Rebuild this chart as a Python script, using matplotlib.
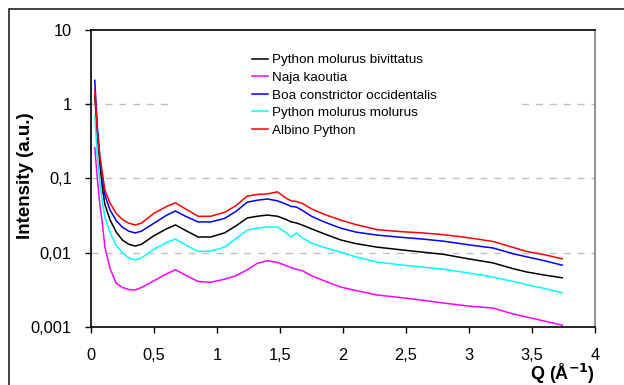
import numpy as np
import matplotlib
matplotlib.use("Agg")
import matplotlib.pyplot as plt
from matplotlib.patches import Rectangle
from matplotlib.ticker import FixedLocator, FixedFormatter, NullLocator

plt.rcParams['font.family'] = ['Liberation Sans', 'DejaVu Sans']

# Q values (1/Angstrom) shared by all curves
q = [0.03, 0.05, 0.07, 0.09, 0.11, 0.15, 0.2, 0.25, 0.3, 0.35, 0.4, 0.5, 0.6, 0.67,
     0.75, 0.85, 0.95, 1.06, 1.15, 1.24, 1.32, 1.40, 1.48, 1.55, 1.59, 1.63, 1.68,
     1.75, 1.85, 1.98, 2.1, 2.27, 2.45, 2.63, 2.8, 3.01, 3.19, 3.35, 3.46, 3.6, 3.74]

bivittatus = [1.3, 0.4, 0.16, 0.075, 0.045, 0.028, 0.019, 0.0148, 0.013, 0.0123, 0.013,
              0.017, 0.021, 0.0237, 0.020, 0.0163, 0.0163, 0.0185, 0.023, 0.0294, 0.031,
              0.0322, 0.031, 0.028, 0.026, 0.0252, 0.0235, 0.021, 0.018, 0.0149, 0.0133,
              0.0119, 0.011, 0.0102, 0.0095, 0.0082, 0.0073, 0.0061, 0.0055, 0.005, 0.0046]

naja = [0.26, 0.1, 0.045, 0.025, 0.012, 0.0062, 0.0039, 0.0034, 0.0032, 0.00315, 0.0034,
        0.0042, 0.0052, 0.0059, 0.0050, 0.0041, 0.004, 0.0044, 0.0049, 0.0059, 0.0072,
        0.0078, 0.0074, 0.0067, 0.0063, 0.006, 0.0057, 0.0049, 0.0042, 0.00346, 0.0031,
        0.0027, 0.0025, 0.0023, 0.0021, 0.0019, 0.0018, 0.0015, 0.00136, 0.0012, 0.00106]

boa = [2.1, 0.5, 0.2, 0.1, 0.06, 0.038, 0.027, 0.022, 0.0195, 0.0185, 0.0195, 0.025,
       0.032, 0.0365, 0.031, 0.026, 0.026, 0.029, 0.036, 0.048, 0.051, 0.053, 0.05,
       0.045, 0.042, 0.0413, 0.037, 0.031, 0.026, 0.0215, 0.019, 0.0173, 0.0162, 0.0153,
       0.0143, 0.0127, 0.0116, 0.0097, 0.0088, 0.0078, 0.0068]

molurus = [0.7, 0.2, 0.09, 0.05, 0.03, 0.019, 0.0125, 0.01, 0.0085, 0.008, 0.0085,
           0.0112, 0.0138, 0.0153, 0.0128, 0.0104, 0.0105, 0.0119, 0.0155, 0.0202,
           0.0215, 0.0222, 0.0222, 0.0185, 0.0163, 0.0185, 0.0158, 0.0135, 0.0118,
           0.0102, 0.0088, 0.0075, 0.0069, 0.0064, 0.006, 0.0053, 0.0047, 0.0041, 0.0037,
           0.0033, 0.0029]

albino = [1.55, 0.45, 0.2, 0.12, 0.07, 0.047, 0.034, 0.028, 0.025, 0.0237, 0.025, 0.034,
          0.042, 0.047, 0.039, 0.031, 0.031, 0.035, 0.043, 0.058, 0.061, 0.062, 0.066,
          0.054, 0.05, 0.049, 0.046, 0.039, 0.033, 0.0276, 0.024, 0.0205, 0.0193, 0.0185,
          0.0175, 0.0158, 0.0142, 0.0118, 0.0104, 0.0094, 0.0083]

series = [
    ('Python molurus bivittatus', bivittatus, '#000000'),
    ('Naja kaoutia', naja, '#ff00ff'),
    ('Boa constrictor occidentalis', boa, '#0000ff'),
    ('Python molurus molurus', molurus, '#00ffff'),
    ('Albino Python', albino, '#ff0000'),
]

y_ticks = [0.001, 0.01, 0.1, 1, 10]
y_labels = ['0,001', '0,01', '0,1', '1', '10']
x_ticks = [0, 0.5, 1, 1.5, 2, 2.5, 3, 3.5, 4]
x_labels = ['0', '0,5', '1', '1,5', '2', '2,5', '3', '3,5', '4']

fig = plt.figure(figsize=(6.24, 3.85), dpi=100)

# marco exterior del grafico
fig.patches.append(Rectangle((9 / 624, -0.1), 1.2, 1.1 - 9 / 385, transform=fig.transFigure,
                             fill=False, edgecolor='#222222', linewidth=1.2))

ax = fig.add_axes([91 / 624, 1 - 327 / 385, 504 / 624, 297 / 385])
ax.set_yscale('log')
ax.set_xlim(0, 4)
ax.set_ylim(0.001, 10)

for g in [0.01, 0.1, 1]:
    ax.axhline(g, color='#c0c0c0', linestyle=(0, (5, 5)), linewidth=1.0, zorder=0)

# fondo blanco de la leyenda (tapa la rejilla)
ax.add_patch(Rectangle((0.163, 0.613), 0.688, 0.353, transform=ax.transAxes,
                       facecolor='white', edgecolor='none', zorder=1))

for name, vals, col in series:
    ax.plot(q, vals, color=col, linewidth=1.1, label=name, zorder=3)

ax.yaxis.set_major_locator(FixedLocator(y_ticks))
ax.yaxis.set_major_formatter(FixedFormatter(y_labels))
ax.yaxis.set_minor_locator(NullLocator())
ax.xaxis.set_major_locator(FixedLocator(x_ticks))
ax.xaxis.set_major_formatter(FixedFormatter(x_labels))
ax.tick_params(axis='both', direction='out', length=4, width=1, labelsize=11.8, colors='black')
ax.tick_params(axis='x', pad=11)
ax.tick_params(axis='y', pad=10)

for s in ['left', 'bottom', 'top']:
    ax.spines[s].set_color('black')
    ax.spines[s].set_linewidth(1.2)
ax.spines['right'].set_color('#808080')
ax.spines['right'].set_linewidth(1.2)

ax.set_ylabel('Intensity (a.u.)', fontsize=13.5, fontweight='bold')
ax.yaxis.set_label_coords((34 - 91) / 504, (327 - 176) / 297)
ax.text(1.0, -(380 - 327) / 297, r'Q (Å$^{\mathbf{-1}}$)', transform=ax.transAxes,
        ha='right', va='baseline', fontsize=13, fontweight='bold')

leg = ax.legend(loc='upper left', bbox_to_anchor=(161 / 504, (327 - 54) / 297), frameon=False,
                fontsize=9.7, handlelength=1.2, handletextpad=0.3, labelspacing=0.38,
                borderpad=0, borderaxespad=0)

fig.savefig('out.png', dpi=100)
